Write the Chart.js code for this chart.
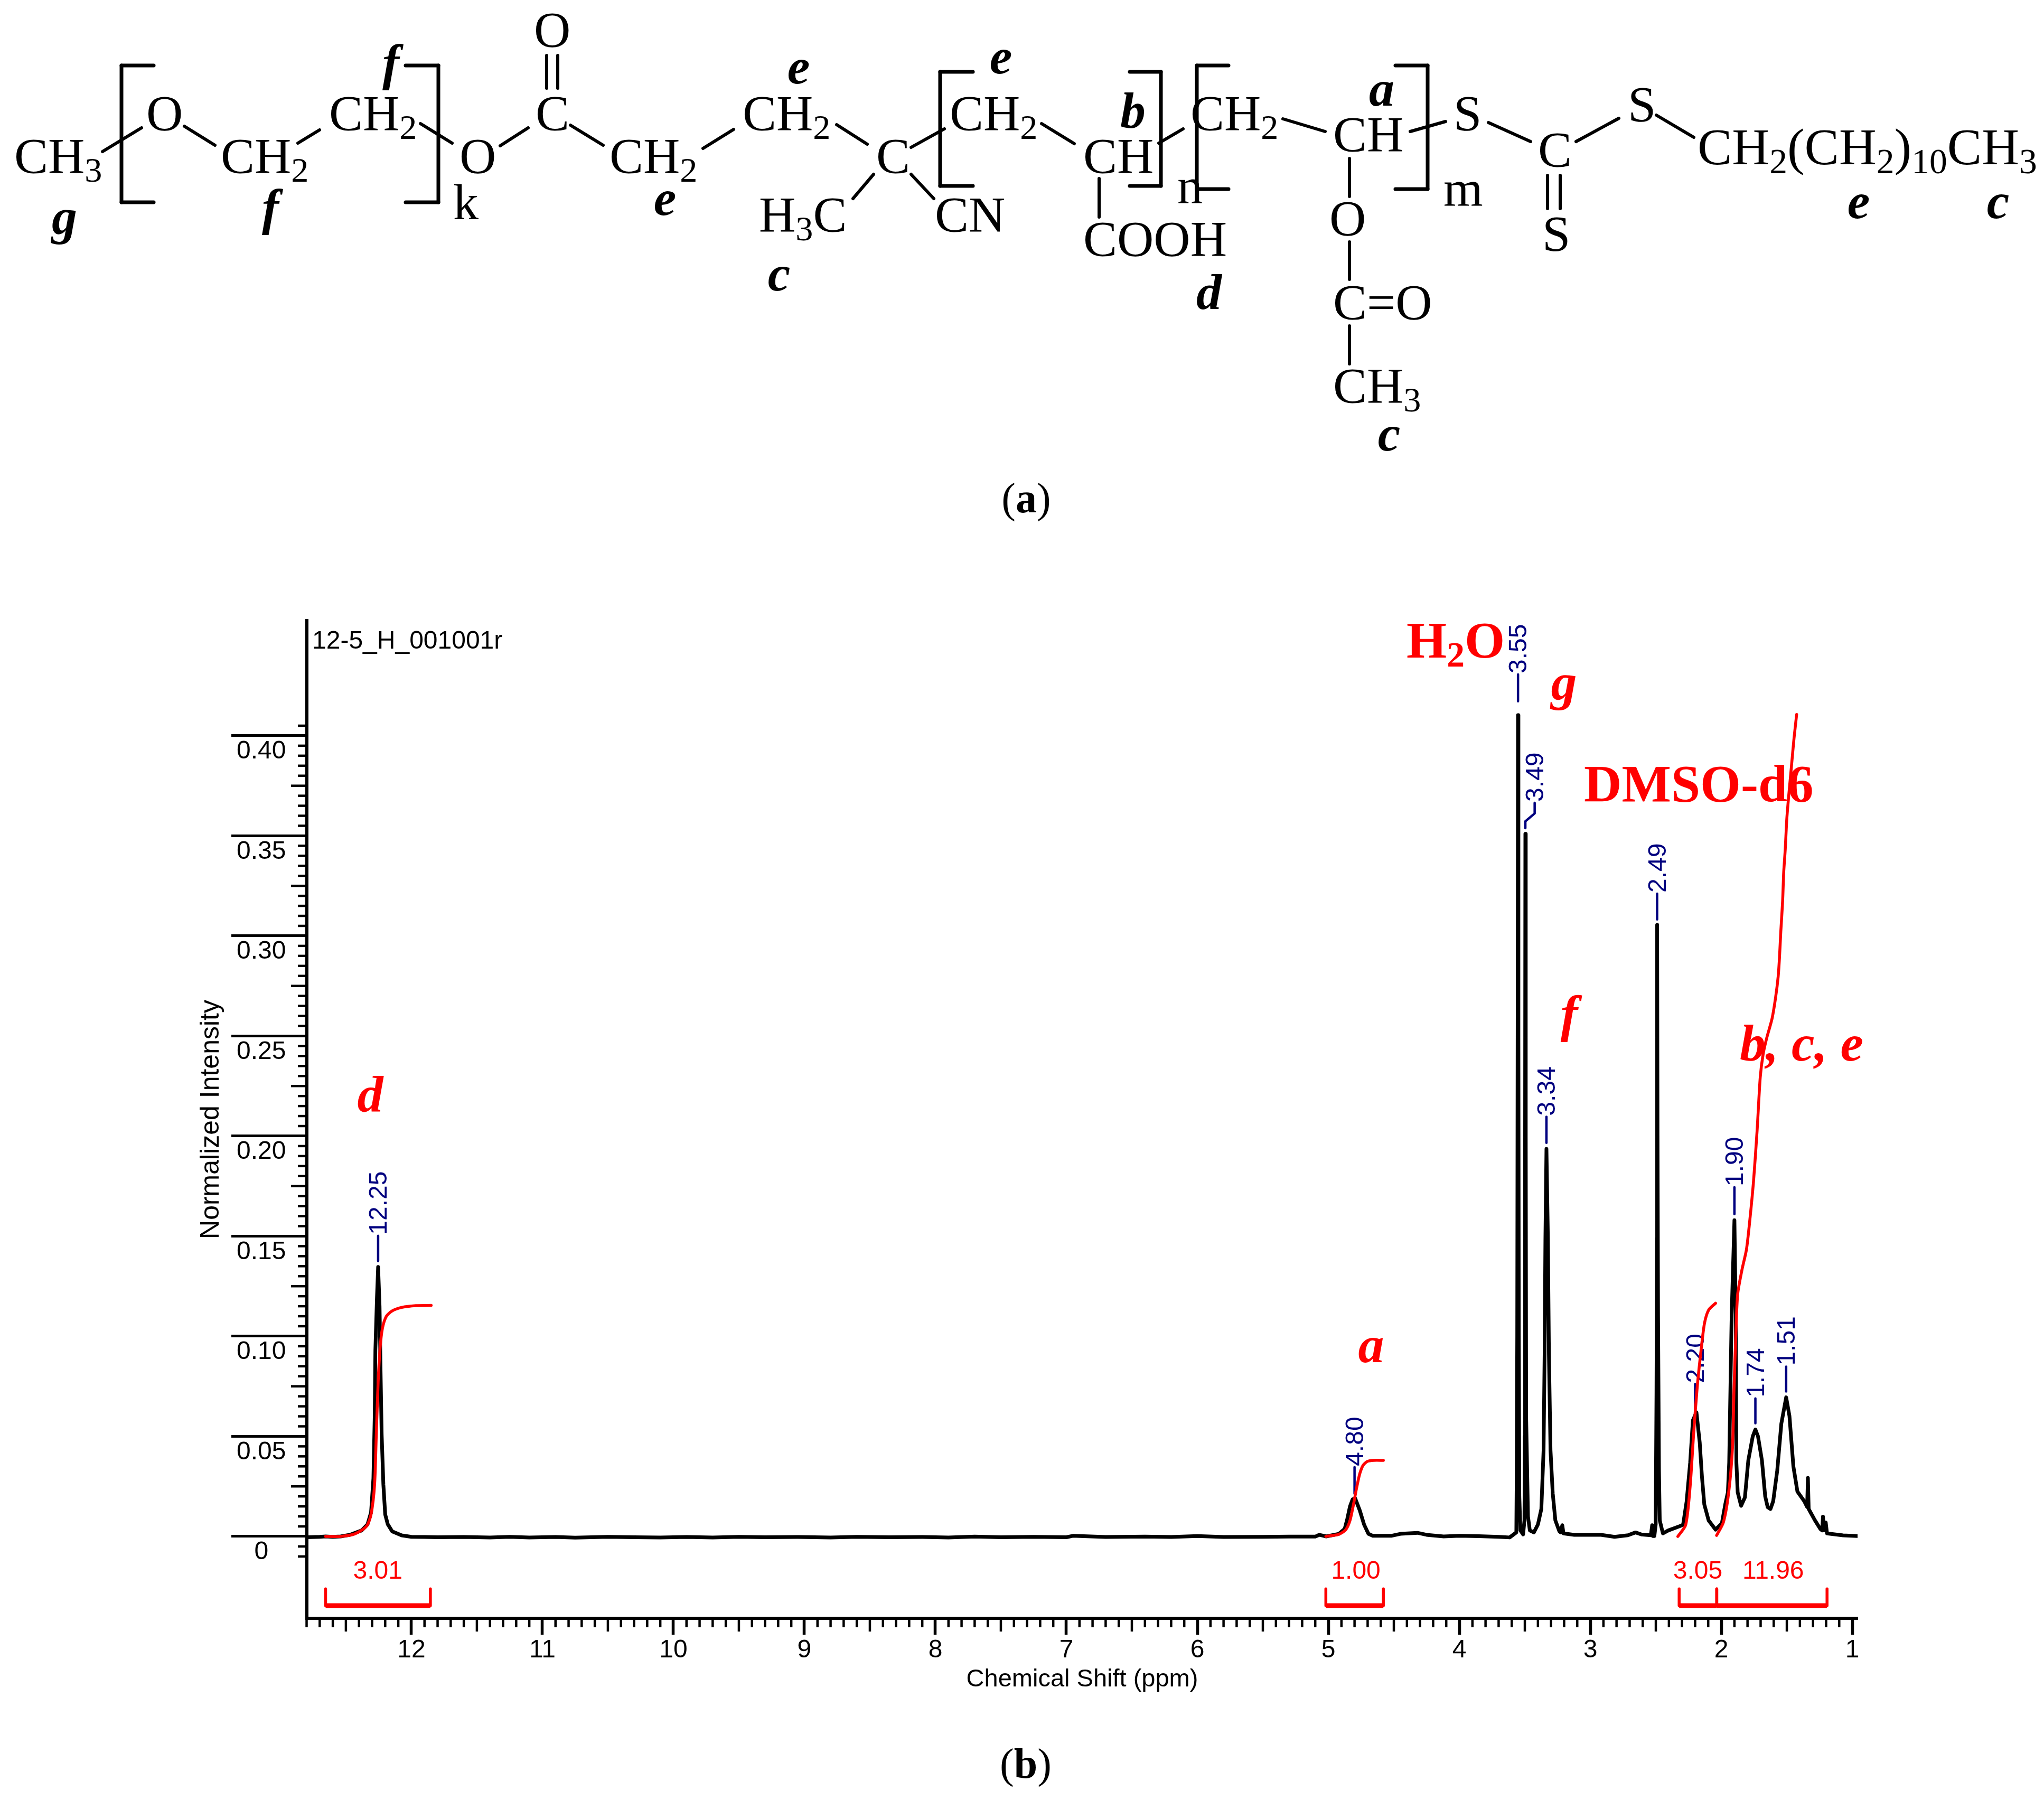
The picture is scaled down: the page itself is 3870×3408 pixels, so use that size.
<!DOCTYPE html>
<html>
<head>
<meta charset="utf-8">
<title>NMR</title>
<script src="https://cdn.jsdelivr.net/npm/chart.js@4/dist/chart.umd.js"></script>
<style>
  html, body { margin: 0; background: #fff; overflow: hidden; }
  #chart-one, #overlay { position: absolute; left: 0; top: 0; }
  #overlay { pointer-events: none; }
</style>
</head>
<body>
<canvas id="chart-one" width="3870" height="3408"></canvas>
<svg id="overlay" width="3870" height="3408" viewBox="0 0 3870 3408" xmlns="http://www.w3.org/2000/svg"></svg>
<script>
const xTickValues = [12, 11, 10, 9, 8, 7, 6, 5, 4, 3, 2, 1];
const yTickValues = [0, 0.05, 0.10, 0.15, 0.20, 0.25, 0.30, 0.35, 0.40];

// spectrum
const shiftPpm = [
  12.798, 12.7, 12.655, 12.6, 12.54, 12.47, 12.38, 12.335, 12.308, 12.29, 12.28, 12.275, 12.263, 12.254, 12.243, 12.236, 12.227, 12.214, 12.2, 12.18, 12.146, 12.074, 12.0, 11.9,
  11.8, 11.6, 11.4, 11.25, 11.1, 10.9, 10.75, 10.5, 10.3, 10.1, 9.9, 9.7, 9.5, 9.3, 9.05, 8.8, 8.6, 8.35, 8.1, 7.9, 7.7, 7.5, 7.25, 7.0, 6.95, 6.7, 6.4, 6.2, 6.0, 5.8, 5.5, 5.3, 5.1,
  5.07, 5.016, 4.92, 4.875, 4.855, 4.835, 4.815, 4.795, 4.76, 4.727, 4.694, 4.66, 4.52, 4.45, 4.32, 4.25, 4.12, 4.0, 3.85, 3.7, 3.616,
  3.565, 3.562, 3.558, 3.555, 3.552, 3.549, 3.546, 3.542, 3.534, 3.513, 3.503, 3.5, 3.498, 3.496, 3.493, 3.49, 3.476, 3.462, 3.431, 3.4, 3.374, 3.357, 3.349, 3.343, 3.335, 3.324, 3.316, 3.304, 3.287, 3.267, 3.236, 3.226, 3.214, 3.205, 3.123, 2.918, 2.815, 2.713, 2.655, 2.61, 2.538, 2.528, 2.522, 2.511, 2.501, 2.495, 2.491, 2.49, 2.487, 2.483, 2.476, 2.47, 2.446, 2.405, 2.322, 2.292,
  2.265, 2.238, 2.217, 2.19, 2.165, 2.148, 2.13, 2.097, 2.044, 1.996, 1.97, 1.95, 1.94, 1.921, 1.9, 1.89, 1.885, 1.875, 1.849, 1.82, 1.794, 1.76, 1.74, 1.72, 1.69, 1.665, 1.646, 1.625, 1.604,
  1.573, 1.542, 1.505, 1.48, 1.45, 1.419, 1.367, 1.345, 1.339, 1.333, 1.285, 1.244, 1.23, 1.224, 1.215, 1.203, 1.193, 1.07, 0.96
];
const intensity = [
  -0.0004, -0.0002, 0, -0.0002, 0, 0.0008, 0.003, 0.006, 0.012, 0.029, 0.06, 0.093, 0.119, 0.1346, 0.115, 0.085, 0.051, 0.026, 0.011, 0.006, 0.0025, 0.0005, -0.0002, -0.0003,
  -0.0004, -0.0003, -0.0005, -0.0002, -0.0005, -0.0003, -0.0006, -0.0002, -0.0004, -0.0005, -0.0003, -0.0005, -0.0002, -0.0004, -0.0003, -0.0005, -0.0002, -0.0004, -0.0003, -0.0005, -0.0001, -0.0004, -0.0002, -0.0004, 0.0003, -0.0003, -0.0001, -0.0003, 0.0002, -0.0003, -0.0002, -0.0001, -0.0001,
  0.0008, 0, 0.0013, 0.0038, 0.0089, 0.015, 0.0185, 0.019, 0.013, 0.0059, 0.0013, 0.0003, 0.0003, 0.0013, 0.0018, 0.0008, 0, 0.0003, 0.0001, -0.0002, -0.0005,
  0.002, 0.03, 0.1, 0.25, 0.4103, 0.25, 0.1, 0.02, 0.003, 0.001, 0.008, 0.05, 0.2, 0.351, 0.2, 0.06, 0.01, 0.003, 0.002, 0.006, 0.0137, 0.043, 0.091, 0.149, 0.1936, 0.149, 0.091, 0.043, 0.0215, 0.008, 0.0025, 0.002, 0.0056, 0.0015, 0.0008, 0.0008, -0.0002, 0.0006, 0.002, 0.001, 0.0006, 0.0056, 0.0002, 0.0002, 0.006, 0.072, 0.149, 0.3055, 0.2, 0.11, 0.033, 0.008, 0.0015, 0.003, 0.005, 0.0058,
  0.0175, 0.0368, 0.058, 0.062, 0.047, 0.03, 0.016, 0.008, 0.0034, 0.0065, 0.016, 0.022, 0.0368, 0.111, 0.158, 0.111, 0.0368, 0.022, 0.0153, 0.0195, 0.038, 0.05, 0.0534, 0.05, 0.038, 0.02, 0.0146, 0.0137, 0.0176,
  0.033, 0.0563, 0.0695, 0.0602, 0.035, 0.0224, 0.0176, 0.0147, 0.0292, 0.0137, 0.008, 0.0037, 0.003, 0.0099, 0.003, 0.007, 0.0015, 0.0005, 0.0002
];

// integral curves
const integralPpm = [
  [12.655, 12.542, 12.434, 12.344, 12.308, 12.281, 12.268, 12.254, 12.239, 12.221, 12.191, 12.146, 12.074, 11.966, 11.849],
  [5.019, 4.922, 4.868, 4.835, 4.808, 4.788, 4.761, 4.734, 4.701, 4.654, 4.58],
  [2.332, 2.272, 2.238, 2.211, 2.185, 2.157, 2.129, 2.097, 2.044],
  [2.036, 1.984, 1.944, 1.915, 1.903, 1.888, 1.875, 1.843, 1.808, 1.782, 1.754, 1.727, 1.703, 1.681, 1.653, 1.613, 1.586, 1.566, 1.556, 1.546, 1.532, 1.524, 1.512, 1.5, 1.485, 1.465, 1.445, 1.425]
];
const integralVal = [
  [0, 0, 0.0012, 0.005, 0.011, 0.026, 0.051, 0.077, 0.094, 0.104, 0.11, 0.1127, 0.1144, 0.1153, 0.1154],
  [0, 0.001, 0.0033, 0.0079, 0.016, 0.023, 0.0311, 0.0356, 0.0375, 0.038, 0.038],
  [0, 0.0058, 0.0251, 0.0517, 0.0739, 0.0916, 0.1063, 0.1131, 0.1165],
  [0.0005, 0.0071, 0.0219, 0.0442, 0.0739, 0.1034, 0.1211, 0.133, 0.1434, 0.1583, 0.1776, 0.2026, 0.2293, 0.2409, 0.2491, 0.2586, 0.2691, 0.2797, 0.2892, 0.3021, 0.3174, 0.3315, 0.3433, 0.3586, 0.3704, 0.3845, 0.3987, 0.4106]
];
const integralLabels = ['3.01', '1.00', '3.05', '11.96'];
const integralFrom = [12.655, 5.019, 2.322, 2.035];
const integralTo = [11.855, 4.58, 2.035, 1.193];
const integralLabelPpm = [12.257, 4.79, 2.18, 1.604];

// peak picks
const peakLabels = ['12.25', '4.80', '3.55', '3.49', '3.34', '2.49', '2.20', '1.90', '1.74', '1.51'];
const peakPpm = [12.254, 4.80, 3.552, 3.496, 3.335, 2.49, 2.2, 1.9, 1.74, 1.505];
const labelPpm = [12.254, 4.80, 3.552, 3.425, 3.335, 2.49, 2.2, 1.9, 1.74, 1.505];
const leaderLow = [0.1375, 0.0214, 0.4172, 0.3538, 0.1966, 0.3082, 0.0636, 0.161, 0.0565, 0.0724];
const leaderHigh = [0.1502, 0.0346, 0.4306, 0.3665, 0.2096, 0.3211, 0.0761, 0.1744, 0.0689, 0.0848];

const BRACKET_LOW = -0.0346;
const BRACKET_HIGH = -0.0262;
const INTEGRAL_TEXT = -0.0177;

function toPoints(xs, ys) {
  return xs.map((x, i) => ({ x: x, y: ys[i] }));
}

const datasets = [];
integralPpm.forEach((xs, i) => {
  datasets.push({ label: 'integral ' + integralLabels[i], data: toPoints(xs, integralVal[i]), borderColor: '#ff0000', borderWidth: 5.5, tension: 0.25, order: 1 });
});
integralFrom.forEach((from, i) => {
  const to = integralTo[i];
  datasets.push({
    label: 'bracket ' + integralLabels[i],
    data: toPoints([from, from, to, to], [BRACKET_HIGH, BRACKET_LOW, BRACKET_LOW, BRACKET_HIGH]),
    borderColor: '#ff0000', borderWidth: 5.5, order: 1
  });
  datasets.push({
    label: 'bar ' + integralLabels[i],
    data: toPoints([from, to], [BRACKET_LOW, BRACKET_LOW]),
    borderColor: '#ff0000', borderWidth: 9, order: 1, borderCapStyle: 'butt'
  });
});
peakLabels.forEach((name, i) => {
  const span = leaderHigh[i] - leaderLow[i];
  datasets.push({
    label: 'pick ' + name,
    data: toPoints([peakPpm[i], peakPpm[i], labelPpm[i], labelPpm[i]],
      [leaderLow[i], leaderLow[i] + span * 0.27, leaderLow[i] + span * 0.58, leaderHigh[i]]),
    borderColor: '#00007f', borderWidth: 4.5, order: 2
  });
});
datasets.push({ label: 'spectrum', data: toPoints(shiftPpm, intensity), borderColor: '#000000', borderWidth: 7, order: 3 });

// minor ticks and the text that hangs on peaks
const spectrumText = {
  id: 'spectrumText',
  beforeDatasetsDraw(chart) {
    const { ctx, scales: { x, y } } = chart;
    const axisY = y.bottom;
    const axisX = x.left;
    ctx.save();
    ctx.strokeStyle = '#000';
    ctx.lineWidth = 4.5;
    for (let i = 128; i >= 10; i--) {
      if (i % 10 === 0) continue;
      const px = x.getPixelForValue(i / 10);
      const len = i % 5 === 0 ? 25 : 17;
      ctx.beginPath(); ctx.moveTo(px, axisY); ctx.lineTo(px, axisY + len); ctx.stroke();
    }
    for (let i = -2; i <= 81; i++) {
      if (i % 10 === 0) continue;
      const py = y.getPixelForValue(i * 0.005);
      const len = i % 5 === 0 ? 30 : 17;
      ctx.beginPath(); ctx.moveTo(axisX, py); ctx.lineTo(axisX - len, py); ctx.stroke();
    }
    ctx.font = '48px "Liberation Sans"';
    ctx.fillStyle = '#00007f';
    ctx.textAlign = 'left';
    ctx.textBaseline = 'middle';
    peakLabels.forEach((name, i) => {
      ctx.save();
      ctx.translate(x.getPixelForValue(labelPpm[i]) + 3, y.getPixelForValue(leaderHigh[i]) - 2);
      ctx.rotate(-Math.PI / 2);
      ctx.fillText(name, 0, 0);
      ctx.restore();
    });
    ctx.fillStyle = '#ff0000';
    ctx.textAlign = 'center';
    integralLabels.forEach((name, i) => {
      ctx.fillText(name, x.getPixelForValue(integralLabelPpm[i]), y.getPixelForValue(INTEGRAL_TEXT));
    });
    ctx.restore();
  }
};

const ctx = document.getElementById('chart-one');
new Chart(ctx, {
  type: 'line',
  data: { datasets: datasets },
  plugins: [spectrumText],
  options: {
    responsive: false,
    animation: false,
    devicePixelRatio: 1,
    parsing: false,
    normalized: false,
    layout: { padding: { left: 340, right: 353, top: 1175, bottom: 200 } },
    elements: { point: { radius: 0 }, line: { tension: 0, borderJoinStyle: 'round', borderCapStyle: 'round', fill: false } },
    plugins: { legend: { display: false }, tooltip: { enabled: false } },
    scales: {
      x: {
        type: 'linear',
        reverse: true,
        min: 0.96,
        max: 12.798,
        afterBuildTicks: (scale) => { scale.ticks = xTickValues.map(v => ({ value: v })); },
        afterFit: (scale) => { scale.height = 144; },
        border: { display: true, color: '#000', width: 6 },
        grid: { display: true, drawOnChartArea: false, drawTicks: true, tickLength: 31, tickWidth: 5.5, tickColor: '#000' },
        ticks: { autoSkip: false, maxRotation: 0, padding: 1, color: '#000', font: { family: 'Liberation Sans', size: 48 }, callback: (v) => String(v) },
        title: { display: true, text: 'Chemical Shift (ppm)', color: '#000', font: { family: 'Liberation Sans', size: 47 }, padding: { top: 0, bottom: 0 } }
      },
      y: {
        type: 'linear',
        min: -0.0409,
        max: 0.4575,
        afterBuildTicks: (scale) => { scale.ticks = yTickValues.map(v => ({ value: v })); },
        afterFit: (scale) => { scale.width = 241; },
        border: { display: true, color: '#000', width: 6 },
        grid: { display: true, drawOnChartArea: false, drawTicks: true, tickLength: 143, tickWidth: 5, tickColor: '#000' },
        ticks: { autoSkip: false, crossAlign: 'center', padding: -103.5, labelOffset: 30, color: '#000', font: { family: 'Liberation Sans', size: 48 }, callback: (v) => (v === 0 ? '0' : v.toFixed(2)) },
        title: { display: true, text: 'Normalized Intensity', color: '#000', font: { family: 'Liberation Sans', size: 50 }, padding: { top: 30, bottom: 0 } }
      }
    }
  }
});

// molecule and captions over the canvas
const NS = 'http://www.w3.org/2000/svg';
const overlay = document.getElementById('overlay');
const SERIF = '"Liberation Serif"';

function addText(str, x, y, opts) {
  const o = Object.assign({ size: 96, color: '#000', weight: 'normal', style: 'normal', anchor: 'start', family: SERIF, raw: false }, opts);
  const t = document.createElementNS(NS, 'text');
  t.setAttribute('x', x);
  t.setAttribute('y', y);
  t.setAttribute('font-family', o.family);
  t.setAttribute('font-size', o.size);
  t.setAttribute('font-weight', o.weight);
  t.setAttribute('font-style', o.style);
  t.setAttribute('fill', o.color);
  t.setAttribute('text-anchor', o.anchor);
  if (o.raw) {
    t.textContent = str;
    overlay.appendChild(t);
    return;
  }
  // "_2" means subscript
  str.split(/_(\d+)/).forEach((part, i) => {
    if (part === '') return;
    const s = document.createElementNS(NS, 'tspan');
    s.textContent = part;
    if (i % 2 === 1) {
      s.setAttribute('font-size', o.size * 0.69);
      s.setAttribute('dy', o.size * 0.17);
    } else if (i > 0) {
      s.setAttribute('dy', -o.size * 0.17);
    }
    t.appendChild(s);
  });
  overlay.appendChild(t);
}

function addLine(x1, y1, x2, y2, w) {
  const l = document.createElementNS(NS, 'line');
  l.setAttribute('x1', x1); l.setAttribute('y1', y1);
  l.setAttribute('x2', x2); l.setAttribute('y2', y2);
  l.setAttribute('stroke', '#000');
  l.setAttribute('stroke-width', w || 6);
  l.setAttribute('stroke-linecap', 'round');
  overlay.appendChild(l);
}

function addBracket(xSpine, xTip, top, bottom) {
  addLine(xSpine, top, xSpine, bottom, 7);
  addLine(xSpine, top, xTip, top, 7);
  addLine(xSpine, bottom, xTip, bottom, 7);
}

const atoms = [
  ['CH_3', 27, 328], ['O', 277, 247], ['CH_2', 418, 328], ['CH_2', 623, 247], ['O', 870, 328],
  ['C', 1014, 247], ['O', 1011, 89], ['CH_2', 1154, 328], ['CH_2', 1406, 247], ['C', 1659, 328],
  ['H_3C', 1437, 439], ['CN', 1770, 439], ['k', 858, 415], ['CH_2', 1798, 247], ['CH', 2051, 328],
  ['COOH', 2051, 485], ['n', 2229, 385], ['CH_2', 2254, 247], ['CH', 2524, 287], ['O', 2517, 446],
  ['C=O', 2524, 605], ['CH_3', 2524, 763], ['S', 2752, 247], ['m', 2733, 389], ['C', 2912, 316],
  ['S', 3082, 230], ['S', 2920, 475], ['CH_2(CH_2)_10CH_3', 3214, 311]
];
atoms.forEach(a => addText(a[0], a[1], a[2], { size: a[0].length > 8 ? 98 : 96 }));

const protonTags = [
  ['f', 740, 151], ['f', 512, 425], ['g', 122, 443], ['e', 1512, 158], ['e', 1259, 407], ['c', 1475, 550],
  ['e', 1895, 139], ['b', 2145, 241], ['d', 2289, 585], ['a', 2616, 200], ['c', 2630, 853], ['e', 3519, 413], ['c', 3783, 413]
];
protonTags.forEach(a => addText(a[0], a[1], a[2], { weight: 'bold', style: 'italic', anchor: 'middle' }));

const bonds = [
  [194, 287, 268, 242], [349, 239, 407, 275], [564, 271, 605, 246], [796, 234, 856, 271], [947, 276, 1000, 242],
  [1080, 237, 1142, 275], [1035, 105, 1035, 167], [1056, 105, 1056, 167], [1331, 281, 1389, 245], [1584, 236, 1642, 273],
  [1725, 279, 1788, 244], [1654, 330, 1615, 376], [1725, 330, 1768, 376], [1972, 234, 2034, 272], [2194, 271, 2240, 244],
  [2429, 225, 2509, 249], [2670, 249, 2737, 230], [2818, 232, 2898, 268], [2984, 268, 3065, 224], [3136, 218, 3207, 260],
  [2081, 338, 2081, 411], [2555, 300, 2555, 372], [2555, 458, 2555, 529], [2555, 617, 2555, 689], [2930, 332, 2930, 395], [2954, 332, 2954, 395]
];
bonds.forEach(b => addLine(b[0], b[1], b[2], b[3]));

addBracket(230, 291, 124, 383);
addBracket(830, 768, 124, 383);
addBracket(1780, 1842, 136, 352);
addBracket(2198, 2139, 136, 352);
addBracket(2266, 2326, 124, 358);
addBracket(2703, 2642, 124, 358);

// captions
function addCaption(letter, cx, y) {
  const t = document.createElementNS(NS, 'text');
  t.setAttribute('x', cx); t.setAttribute('y', y);
  t.setAttribute('font-family', SERIF);
  t.setAttribute('font-size', 80);
  t.setAttribute('text-anchor', 'middle');
  t.appendChild(document.createTextNode('('));
  const b = document.createElementNS(NS, 'tspan');
  b.setAttribute('font-weight', 'bold');
  b.textContent = letter;
  t.appendChild(b);
  t.appendChild(document.createTextNode(')'));
  overlay.appendChild(t);
}
addCaption('a', 1943, 970);
addCaption('b', 1942, 3366);

// red assignments on the spectrum
const RED = { size: 98, color: '#ff0000', weight: 'bold' };
addText('H_2O', 2663, 1245, RED);
addText('DMSO-d6', 2999, 1517, Object.assign({}, RED, { size: 99 }));
addText('g', 2961, 1324, Object.assign({}, RED, { style: 'italic', anchor: 'middle' }));
addText('f', 2971, 1952, Object.assign({}, RED, { style: 'italic', anchor: 'middle' }));
addText('b, c, e', 3294, 2008, Object.assign({}, RED, { style: 'italic' }));
addText('d', 701, 2105, Object.assign({}, RED, { style: 'italic', anchor: 'middle' }));
addText('a', 2596, 2579, Object.assign({}, RED, { style: 'italic', anchor: 'middle' }));

addText('12-5_H_001001r', 591, 1228, { size: 48, family: '"Liberation Sans"', raw: true });
</script>
</body>
</html>
